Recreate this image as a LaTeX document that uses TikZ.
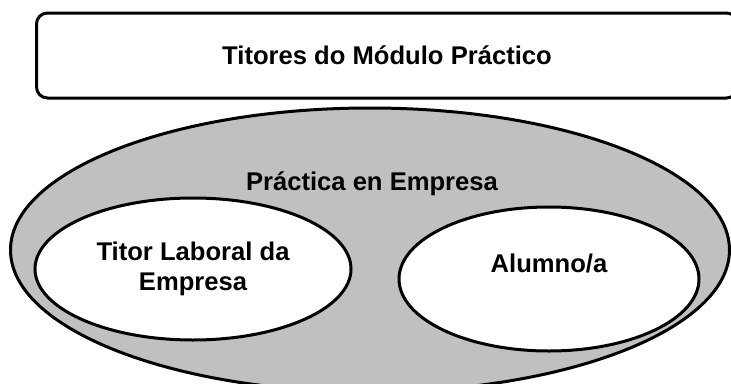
\documentclass[tikz,border=0pt]{standalone}
\usepackage{fontspec}
\setmainfont{Liberation Sans}
\usepackage{xcolor}
\usetikzlibrary{shapes.geometric, positioning}

\definecolor{fondogris}{RGB}{192,192,192}

\tikzset{
  caixa/.style={draw, line width=3pt, rounded corners=11pt, fill=white,
    minimum width=701pt, minimum height=85pt, inner sep=0pt},
  elipse/.style={ellipse, draw, line width=3pt, inner sep=0pt},
  texto/.style={font=\fontsize{25.6}{30}\selectfont\bfseries, align=center}
}

\begin{document}
\begin{tikzpicture}[x=1pt,y=-1pt]
    \useasboundingbox (0,0) rectangle (731,383);
    \clip (0,0) rectangle (731,383);

    % Titores
    \node[caixa, texto] (titores) at (387,55.5) {Titores do Módulo Práctico};

    % Practica
    \node[elipse, fill=fondogris, minimum width=719pt, minimum height=284pt]
      (empresa) at (370,250) {};
    \node[texto] (practica) at (372,184) {Práctica en Empresa};

    % Titor laboral & alumno
    \node[elipse, fill=white, texto, minimum width=316pt, minimum height=142pt]
      (titor) at (193,269) {Titor Laboral da\\Empresa};
    \node[elipse, fill=white, minimum width=300pt, minimum height=144pt]
      (alumno) at (549,279) {};
    \node[texto] (alumnotxt) at (549,263) {Alumno/a};
  \end{tikzpicture}
\end{document}
